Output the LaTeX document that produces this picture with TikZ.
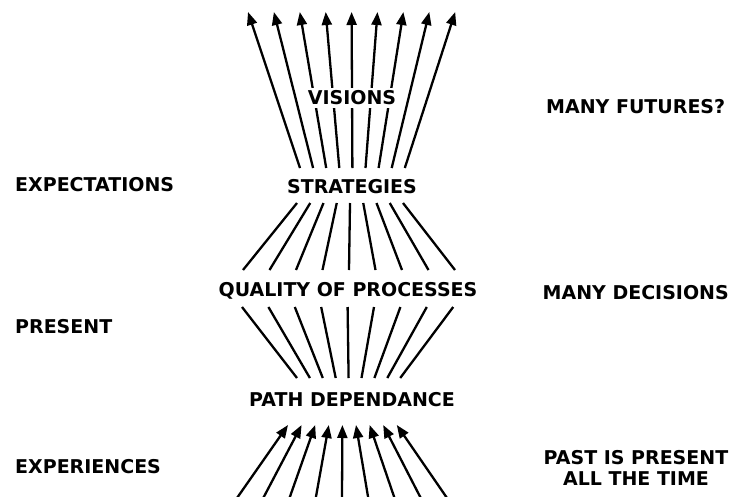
\documentclass[tikz,border=0pt]{standalone}
\usepackage{fontspec}
\setmainfont{DejaVu Sans}
\usetikzlibrary{arrows.meta}
\tikzset{
  lbl/.style={font=\fontsize{19}{21}\selectfont\bfseries, inner sep=0pt, text=black},
  mid/.style={lbl, fill=white, inner xsep=4pt, inner ysep=3pt},
  ray/.style={line width=2.3pt, draw=black},
  rayarrow/.style={ray, -{Triangle[length=13pt,width=10pt]}}
}
\begin{document}
\begin{tikzpicture}[x=1pt,y=-1pt]
\useasboundingbox[fill=white] (0,0) rectangle (731,496);
% coordinates
\foreach \i in {0,...,8}{
  \coordinate (ta\i) at ({300+13.1*\i},168);
  \coordinate (tb\i) at ({248+25.9*\i},12);
  \coordinate (ua\i) at ({297+13.25*\i},203);
  \coordinate (ub\i) at ({243+26.5*\i},270);
  \coordinate (la\i) at ({242+26.4*\i},307);
  \coordinate (lb\i) at ({297+12.9*\i},378);
  \coordinate (ba\i) at ({237+26.25*\i},498);
  \coordinate (bb\i) at ({288+13.6*\i},425);
}
% connectors
\foreach \i in {0,...,8}{
  \draw[rayarrow] (ta\i) -- (tb\i);
  \draw[ray] (ua\i) -- (ub\i);
  \draw[ray] (la\i) -- (lb\i);
  \draw[rayarrow] (ba\i) -- (bb\i);
}
% central labels
\node[mid] (vis) at (352,98) {VISIONS};
\node[lbl] (str) at (352,187) {STRATEGIES};
\node[lbl] (qual) at (348,291) {QUALITY OF PROCESSES};
\node[lbl] (path) at (352,400) {PATH DEPENDANCE};
% left labels
\node[lbl, anchor=west] (exp) at (15,185) {EXPECTATIONS};
\node[lbl, anchor=west] (pres) at (15,327) {PRESENT};
\node[lbl, anchor=west] (expr) at (15,467) {EXPERIENCES};
% right labels
\node[lbl, anchor=west] (fut) at (546,107) {MANY FUTURES?};
\node[lbl, anchor=east] (dec) at (729,293) {MANY DECISIONS};
\node[lbl, align=center] (past) at (636,468) {PAST IS PRESENT\\ALL THE TIME};
\end{tikzpicture}
\end{document}
